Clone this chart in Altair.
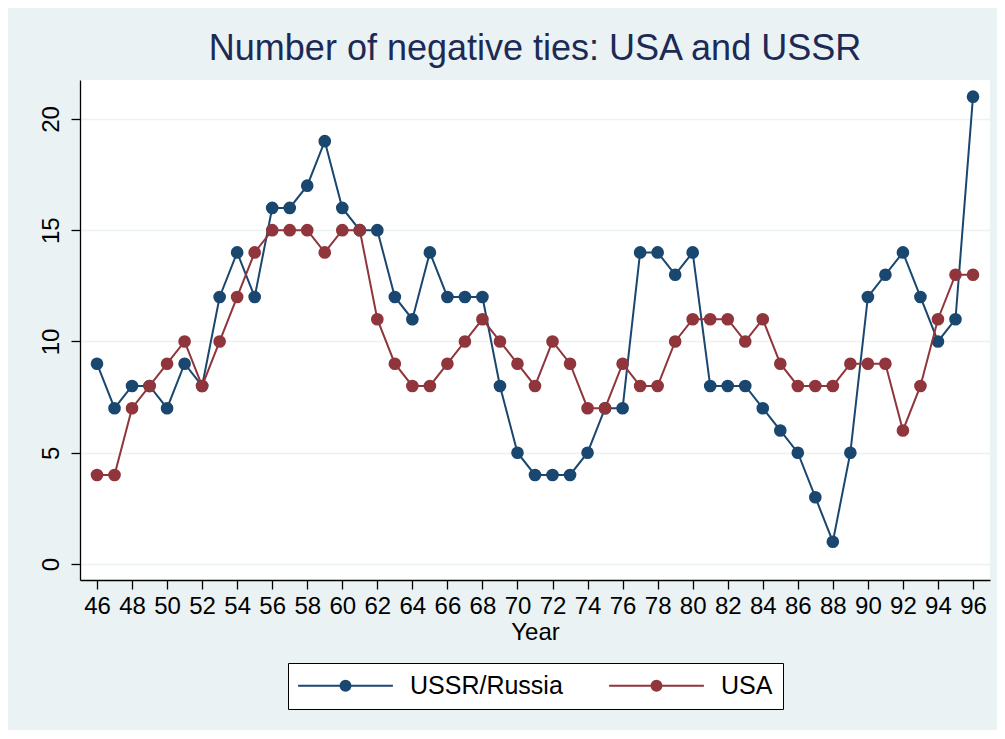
import altair as alt
import pandas as pd

# ---- data ----
years = list(range(46, 97))
ussr = [9, 7, 8, 8, 7, 9, 8, 12, 14, 12,
        16, 16, 17, 19, 16, 15, 15, 12, 11, 14,
        12, 12, 12, 8, 5, 4, 4, 4, 5, 7,
        7, 14, 14, 13, 14, 8, 8, 8, 7, 6,
        5, 3, 1, 5, 12, 13, 14, 12, 10, 11, 21]
usa = [4, 4, 7, 8, 9, 10, 8, 10, 12, 14,
       15, 15, 15, 14, 15, 15, 11, 9, 8, 8,
       9, 10, 11, 10, 9, 8, 10, 9, 7, 7,
       9, 8, 8, 10, 11, 11, 11, 10, 11, 9,
       8, 8, 8, 9, 9, 9, 6, 8, 11, 13, 13]
series_names = ["USSR/Russia", "USA"]
series_colors = ["#1A476F", "#90353B"]
x_ticks = list(range(46, 97, 2))
y_ticks = [0, 5, 10, 15, 20]

df = pd.DataFrame({
    "year": years + years,
    "ties": ussr + usa,
    "series": [series_names[0]] * len(years) + [series_names[1]] * len(years),
})

FONT = "Liberation Sans"

cscale = alt.Scale(domain=series_names, range=series_colors)

# legend symbol: a line with a (ring-filled) dot in the middle
def ring(r):
    return f"M{-r},0A{r},{r},0,1,0,{r},0A{r},{r},0,1,0,{-r},0Z"

sym_path = "M-7.9,0H7.9" + "".join(ring(r) for r in [0.833, 0.55, 0.267, 0.067])

legend = alt.Legend(
    title=None,
    orient="none",
    legendX=208,
    legendY=583,
    direction="horizontal",
    symbolType=sym_path,
    symbolSize=144,
    symbolStrokeWidth=2,
    symbolOffset=35,
    labelOffset=52,
    columnPadding=42,
    labelFont=FONT,
    labelFontSize=25,
    labelColor="black",
    labelLimit=400,
    padding=10,
    strokeColor="black",
    fillColor="white",
    cornerRadius=0,
)

x_enc = alt.X(
    "year:Q",
    scale=alt.Scale(domain=[45.03, 96.97], nice=False, zero=False),
    axis=alt.Axis(
        values=x_ticks, format="d", title="Year", grid=False,
        tickSize=9, labelPadding=5, labelOverlap=False,
        labelFont=FONT, labelFontSize=24, labelColor="black",
        titleFont=FONT, titleFontSize=24, titleFontWeight="normal",
        titleColor="black", titlePadding=2,
        domainColor="black", tickColor="black", domainWidth=1.3, tickWidth=1.3,
    ),
)
y_enc = alt.Y(
    "ties:Q",
    scale=alt.Scale(domain=[-0.72, 21.75], nice=False, zero=False),
    axis=alt.Axis(
        values=y_ticks, title=None, grid=True, gridColor="#EAF2F3", gridWidth=1.5,
        labelAngle=270, labelAlign="center", labelBaseline="bottom",
        tickSize=9, labelPadding=8,
        labelFont=FONT, labelFontSize=24, labelColor="black",
        domainColor="black", tickColor="black", domainWidth=1.3, tickWidth=1.3,
    ),
)

base = alt.Chart(df)
layers = []
for s in series_names:
    sub = base.transform_filter(alt.datum.series == s)
    layers.append(
        sub.mark_line(strokeWidth=2).encode(
            x=x_enc, y=y_enc,
            color=alt.Color("series:N", scale=cscale, legend=legend),
        )
    )
    layers.append(
        sub.mark_point(filled=True, shape="circle", size=160, opacity=1).encode(
            x=x_enc, y=y_enc,
            fill=alt.Fill("series:N", scale=cscale, legend=None),
        )
    )

chart = alt.layer(*layers).properties(
    width=910,
    height=500,
    title=alt.Title(
        "Number of negative ties: USA and USSR",
        font=FONT, fontSize=36, fontWeight="normal", color="#1C2A55",
        anchor="middle", offset=12,
    ),
    autosize=alt.AutoSizeParams(type="none"),
    padding={"left": 72, "top": 72, "right": 7, "bottom": 150},
).configure(
    background="#EAF2F3",
).configure_view(
    fill="white", stroke=None,
)

chart.save("out.html", embed_options={"renderer": "svg", "actions": False})
